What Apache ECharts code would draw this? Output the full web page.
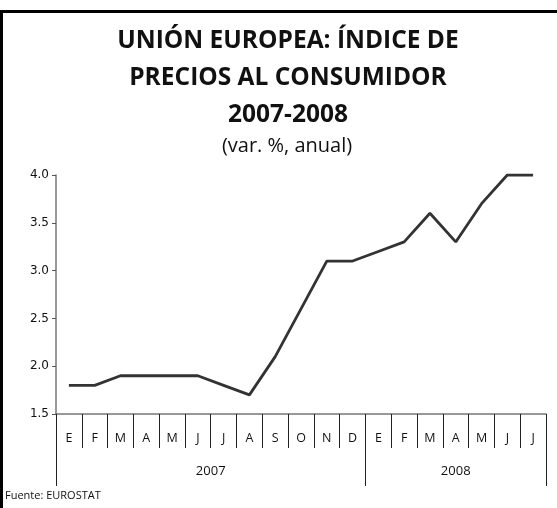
<!DOCTYPE html>
<html>
<head>
<meta charset="utf-8">
<script src="https://cdn.jsdelivr.net/npm/echarts@6/dist/echarts.min.js"></script>
<style>
  html, body { margin: 0; padding: 0; background: #fff; }
  #chart { width: 557px; height: 508px; }
</style>
</head>
<body>
<div id="chart"></div>
<script>
// datos
const months = ['E', 'F', 'M', 'A', 'M', 'J', 'J', 'A', 'S', 'O', 'N', 'D', 'E', 'F', 'M', 'A', 'M', 'J', 'J'];
const ipc = [1.8, 1.8, 1.9, 1.9, 1.9, 1.9, 1.8, 1.7, 2.1, 2.6, 3.1, 3.1, 3.2, 3.3, 3.6, 3.3, 3.7, 4.0, 4.0];
const years = ['2007', '2008'];
const monthsPerYear = [12, 7];
const yTicks = [1.5, 2.0, 2.5, 3.0, 3.5, 4.0];

// limites de cada año sobre el eje
let yearBreaks = [0], yearMids = [];
monthsPerYear.forEach((n, i) => {
  yearMids.push(yearBreaks[i] + n / 2);
  yearBreaks.push(yearBreaks[i] + n);
});

const chart = echarts.init(document.getElementById('chart'));
chart.setOption({
  animation: false,
  title: [
    {
      text: 'UNIÓN EUROPEA: ÍNDICE DE\nPRECIOS AL CONSUMIDOR\n2007-2008',
      left: 288, textAlign: 'center', top: 23, padding: 0,
      textStyle: { fontFamily: 'Open Sans', fontWeight: 'bold', fontSize: 24.5, lineHeight: 37, color: '#111' }
    },
    {
      text: '(var. %, anual)',
      left: 287, textAlign: 'center', top: 136, padding: 0,
      textStyle: { fontFamily: 'Open Sans', fontWeight: 'normal', fontSize: 20, color: '#111' }
    },
    {
      text: 'Fuente: EUROSTAT',
      left: 5, top: 490, padding: 0,
      textStyle: { fontFamily: 'Open Sans', fontWeight: 'normal', fontSize: 11, color: '#111' }
    }
  ],
  graphic: [
    { type: 'rect', shape: { x: 0, y: 10, width: 557, height: 3 }, style: { fill: '#000' } },
    { type: 'rect', shape: { x: 0, y: 10, width: 3, height: 498 }, style: { fill: '#000' } }
  ],
  grid: { left: 56, right: 11, top: 175, bottom: 94 },
  xAxis: [
    {
      type: 'category',
      data: months,
      boundaryGap: true,
      axisLine: { lineStyle: { color: '#777', width: 1.5 } },
      axisTick: { show: true, interval: 0, length: 34, lineStyle: { color: '#222' } },
      axisLabel: { interval: 0, margin: 18, fontFamily: 'Open Sans', fontSize: 12.5, color: '#111' }
    },
    {
      type: 'value',
      position: 'bottom',
      min: 0, max: months.length,
      axisLine: { show: false },
      splitLine: { show: false },
      axisTick: { show: true, customValues: yearBreaks, length: 72, lineStyle: { color: '#222' } },
      axisLabel: {
        customValues: yearMids, margin: 51,
        fontFamily: 'Open Sans', fontSize: 13, color: '#111',
        formatter: v => years[yearMids.indexOf(v)]
      }
    }
  ],
  yAxis: {
    type: 'value',
    min: yTicks[0], max: yTicks[yTicks.length - 1], interval: 0.5,
    splitLine: { show: false },
    axisLine: { show: true, lineStyle: { color: '#777', width: 1.5 } },
    axisTick: { show: true, length: 4, lineStyle: { color: '#555' } },
    axisLabel: { margin: 7, fontFamily: 'DejaVu Sans', fontSize: 12, color: '#111', formatter: v => v.toFixed(1) }
  },
  series: [
    {
      type: 'line',
      data: ipc,
      xAxisIndex: 0,
      showSymbol: false,
      lineStyle: { color: '#333', width: 2.8 }
    }
  ]
});
</script>
</body>
</html>
